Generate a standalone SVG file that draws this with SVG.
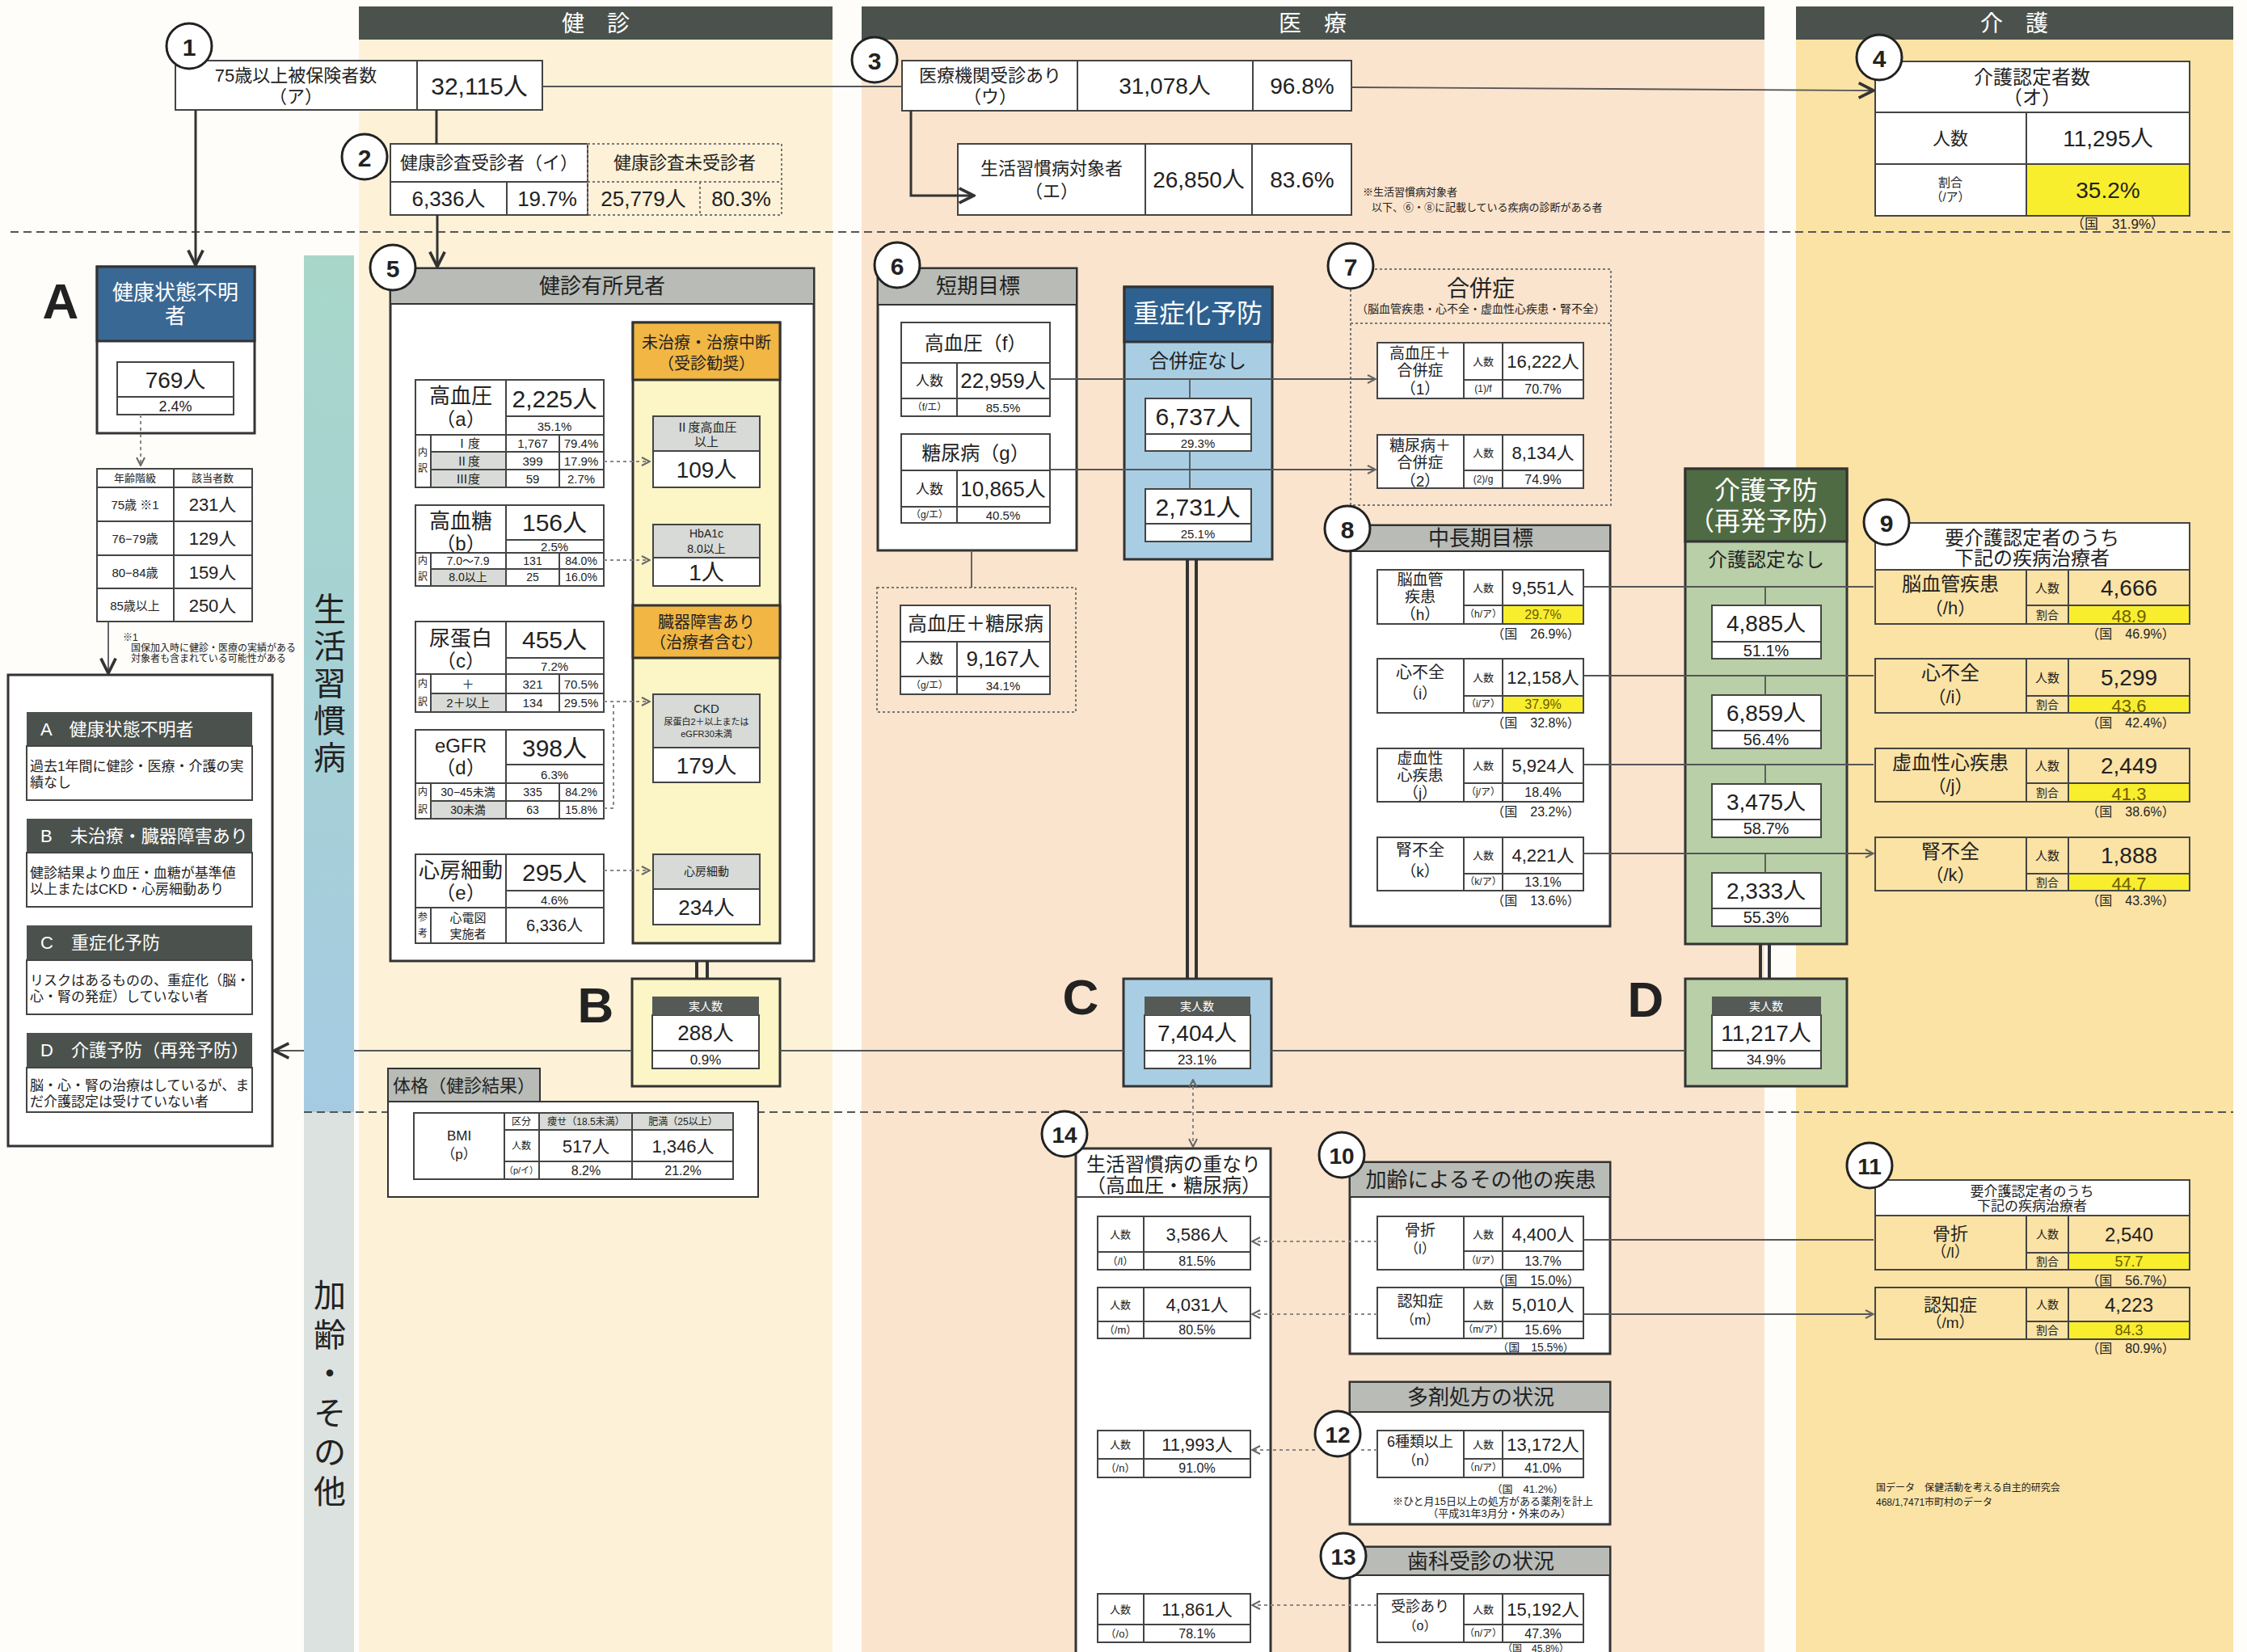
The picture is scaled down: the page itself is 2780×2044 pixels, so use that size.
<svg xmlns="http://www.w3.org/2000/svg" width="2780" height="2044" viewBox="0 0 2780 2044">
<style>
text{font-family:"Liberation Sans","Noto Sans CJK JP",sans-serif;text-anchor:middle;dominant-baseline:central;fill:#222}
.s{text-anchor:start}
.w{fill:#fff}
.b{font-weight:bold}
.box{fill:#fff;stroke:#333;stroke-width:3}
.cell{fill:#fff;stroke:#444;stroke-width:2}
.ln{stroke:#444;stroke-width:2;fill:none}
.dl{stroke:#777;stroke-width:2;stroke-dasharray:3 3;fill:none}
.num{fill:#fff;stroke:#222;stroke-width:3}
.hdr{fill:#4b524d}
.gh{fill:#b8bbb6;stroke:#333;stroke-width:2}
.lg{fill:#d8dbd7}
.yl{fill:#f8ee2e}
.con{stroke:#333;stroke-width:3;fill:none}
.con2{stroke:#555;stroke-width:1.8;fill:none}
.dot{stroke:#888;stroke-width:2;stroke-dasharray:4 4;fill:none}
.dbl{stroke:#333;stroke-width:4}
.ol{fill:#6b5d00}
.lt{font-size:17px}
</style>
<defs>
<linearGradient id="band" x1="0" y1="0" x2="0" y2="1"><stop offset="0" stop-color="#a8d7c9"/><stop offset="1" stop-color="#a5cbe2"/></linearGradient>
<marker id="ar" viewBox="0 0 12 12" refX="11" refY="6" markerWidth="22" markerHeight="22" markerUnits="userSpaceOnUse" orient="auto"><path d="M1,1 L11,6 L1,11" fill="none" stroke="#333" stroke-width="2"/></marker>
<marker id="as" viewBox="0 0 12 12" refX="11" refY="6" markerWidth="12" markerHeight="12" markerUnits="userSpaceOnUse" orient="auto-start-reverse"><path d="M1,1 L11,6 L1,11" fill="none" stroke="#666" stroke-width="2"/></marker>
</defs>

<!-- background -->
<rect width="2780" height="2044" fill="#fefdf9"/>
<rect x="444" y="8" width="586" height="2036" fill="#fdf2d7"/>
<rect x="1066" y="8" width="1117" height="2036" fill="#fae4cd"/>
<rect x="2222" y="8" width="541" height="2036" fill="#fbe3a5"/>
<rect x="444" y="8" width="586" height="41" class="hdr"/>
<text x="737" y="29" font-size="28" class="w">健　診</text>
<rect x="1066" y="8" width="1117" height="41" class="hdr"/>
<text x="1624" y="29" font-size="28" class="w">医　療</text>
<rect x="2222" y="8" width="541" height="41" class="hdr"/>
<text x="2492" y="29" font-size="28" class="w">介　護</text>
<rect x="376" y="316" width="62" height="1060" fill="url(#band)"/>
<rect x="376" y="1376" width="62" height="668" fill="#dce2df"/>
<g font-size="40">
<text x="408" y="754">生</text><text x="408" y="800">活</text><text x="408" y="846">習</text><text x="408" y="892">慣</text><text x="408" y="938">病</text>
<text x="408" y="1603">加</text><text x="408" y="1652">齢</text><text x="408" y="1700">・</text><text x="408" y="1749">そ</text><text x="408" y="1797">の</text><text x="408" y="1846">他</text>
</g>
<line x1="13" y1="287" x2="2763" y2="287" stroke="#555" stroke-width="2" stroke-dasharray="10 6"/>
<line x1="376" y1="1376" x2="2763" y2="1376" stroke="#555" stroke-width="2" stroke-dasharray="10 6"/>
<text x="75" y="372" font-size="62" class="b" fill="#333">A</text>
<text x="737" y="1243" font-size="62" class="b" fill="#333">B</text>
<text x="1337" y="1233" font-size="62" class="b" fill="#333">C</text>
<text x="2036" y="1236" font-size="62" class="b" fill="#333">D</text>

<!-- node 1 -->
<g id="n1">
<rect x="217" y="75" width="454" height="61" class="cell"/>
<line x1="516" y1="75" x2="516" y2="136" class="ln"/>
<text x="366" y="93" font-size="22">75歳以上被保険者数</text>
<text x="366" y="119" font-size="22">（ア）</text>
<text x="593" y="106" font-size="30">32,115人</text>
<circle cx="234" cy="57" r="28" class="num"/><text x="234" y="58" font-size="30" class="b">1</text>
</g>

<!-- node 2 -->
<g id="n2">
<rect x="483" y="178" width="244" height="88" class="cell"/>
<line x1="483" y1="225" x2="727" y2="225" class="ln"/>
<line x1="627" y1="225" x2="627" y2="266" class="ln"/>
<rect x="727" y="178" width="240" height="88" fill="#fff" class="dl"/>
<line x1="727" y1="225" x2="967" y2="225" class="dl"/>
<line x1="866" y1="225" x2="866" y2="266" class="dl"/>
<text x="605" y="201" font-size="22">健康診査受診者（イ）</text>
<text x="555" y="246" font-size="26">6,336人</text>
<text x="677" y="246" font-size="26">19.7%</text>
<text x="847" y="201" font-size="22">健康診査未受診者</text>
<text x="796" y="246" font-size="26">25,779人</text>
<text x="917" y="246" font-size="26">80.3%</text>
<circle cx="451" cy="194" r="28" class="num"/><text x="451" y="195" font-size="30" class="b">2</text>
</g>

<!-- node 3 -->
<g id="n3">
<rect x="1116" y="75" width="556" height="62" class="cell"/>
<line x1="1333" y1="75" x2="1333" y2="137" class="ln"/>
<line x1="1550" y1="75" x2="1550" y2="137" class="ln"/>
<text x="1225" y="93" font-size="22">医療機関受診あり</text>
<text x="1225" y="119" font-size="22">（ウ）</text>
<text x="1441" y="106" font-size="28">31,078人</text>
<text x="1611" y="106" font-size="28">96.8%</text>
<circle cx="1082" cy="74" r="28" class="num"/><text x="1082" y="75" font-size="30" class="b">3</text>
</g>
<g id="n3e">
<rect x="1185" y="178" width="487" height="88" class="cell"/>
<line x1="1417" y1="178" x2="1417" y2="266" class="ln"/>
<line x1="1549" y1="178" x2="1549" y2="266" class="ln"/>
<text x="1301" y="208" font-size="22">生活習慣病対象者</text>
<text x="1301" y="236" font-size="22">（エ）</text>
<text x="1483" y="222" font-size="28">26,850人</text>
<text x="1611" y="222" font-size="28">83.6%</text>
<text x="1686" y="237" font-size="13" class="s">※生活習慣病対象者</text>
<text x="1697" y="256" font-size="13" class="s">以下、⑥・⑧に記載している疾病の診断がある者</text>
</g>

<!-- node 4 -->
<g id="n4">
<rect x="2320" y="76" width="389" height="191" class="cell"/>
<rect x="2507" y="203" width="202" height="64" class="yl"/>
<rect x="2320" y="76" width="389" height="191" fill="none" stroke="#444" stroke-width="2"/>
<line x1="2320" y1="139" x2="2709" y2="139" class="ln"/>
<line x1="2320" y1="203" x2="2709" y2="203" class="ln"/>
<line x1="2507" y1="139" x2="2507" y2="267" class="ln"/>
<text x="2514" y="95" font-size="24">介護認定者数</text>
<text x="2514" y="120" font-size="24">（オ）</text>
<text x="2413" y="171" font-size="22">人数</text>
<text x="2608" y="171" font-size="28">11,295人</text>
<text x="2413" y="225" font-size="15">割合</text>
<text x="2413" y="243" font-size="15">（/ア）</text>
<text x="2608" y="235" font-size="28">35.2%</text>
<text x="2620" y="277" font-size="17">（国　31.9%）</text>
<circle cx="2325" cy="71" r="28" class="num"/><text x="2325" y="72" font-size="30" class="b">4</text>
</g>

<!-- A -->
<g id="nA">
<rect x="120" y="330" width="195" height="206" class="box"/>
<rect x="120" y="330" width="195" height="92" fill="#3a6894" stroke="#333" stroke-width="3"/>
<text x="217" y="362" font-size="26" class="w">健康状態不明</text>
<text x="217" y="391" font-size="26" class="w">者</text>
<rect x="145" y="448" width="144" height="65" class="cell"/>
<line x1="145" y1="491" x2="289" y2="491" class="ln"/>
<text x="217" y="470" font-size="28">769人</text>
<text x="217" y="503" font-size="18">2.4%</text>
</g>
<g id="ageTable">
<rect x="120" y="580" width="192" height="189" class="cell"/>
<line x1="215" y1="580" x2="215" y2="769" class="ln"/>
<line x1="120" y1="603" x2="312" y2="603" class="ln"/>
<line x1="120" y1="645" x2="312" y2="645" class="ln"/>
<line x1="120" y1="687" x2="312" y2="687" class="ln"/>
<line x1="120" y1="728" x2="312" y2="728" class="ln"/>
<text x="167" y="591" font-size="13">年齢階級</text><text x="263" y="591" font-size="13">該当者数</text>
<text x="167" y="624" font-size="15">75歳 ※1</text><text x="263" y="624" font-size="22">231人</text>
<text x="167" y="666" font-size="15">76−79歳</text><text x="263" y="666" font-size="22">129人</text>
<text x="167" y="708" font-size="15">80−84歳</text><text x="263" y="708" font-size="22">159人</text>
<text x="167" y="749" font-size="15">85歳以上</text><text x="263" y="749" font-size="22">250人</text>
<text x="152" y="789" font-size="12" class="s">※1</text>
<text x="162" y="802" font-size="12" class="s">国保加入時に健診・医療の実績がある</text>
<text x="162" y="815" font-size="12" class="s">対象者も含まれている可能性がある</text>
</g>

<!-- legend -->
<g id="legend">
<rect x="10" y="835" width="327" height="583" class="box"/>
<rect x="33" y="881" width="279" height="42" class="hdr"/>
<rect x="33" y="923" width="279" height="67" class="cell"/>
<text x="50" y="902" font-size="22" class="w s">A　健康状態不明者</text>
<text x="37" y="948" class="s lt">過去1年間に健診・医療・介護の実</text>
<text x="37" y="968" class="s lt">績なし</text>
<rect x="33" y="1013" width="279" height="42" class="hdr"/>
<rect x="33" y="1055" width="279" height="67" class="cell"/>
<text x="50" y="1034" font-size="22" class="w s">B　未治療・臓器障害あり</text>
<text x="37" y="1080" class="s lt">健診結果より血圧・血糖が基準値</text>
<text x="37" y="1100" class="s lt">以上またはCKD・心房細動あり</text>
<rect x="33" y="1145" width="279" height="43" class="hdr"/>
<rect x="33" y="1188" width="279" height="67" class="cell"/>
<text x="50" y="1166" font-size="22" class="w s">C　重症化予防</text>
<text x="37" y="1213" class="s lt">リスクはあるものの、重症化（脳・</text>
<text x="37" y="1233" class="s lt">心・腎の発症）していない者</text>
<rect x="33" y="1278" width="279" height="43" class="hdr"/>
<rect x="33" y="1321" width="279" height="55" class="cell"/>
<text x="50" y="1299" font-size="22" class="w s">D　介護予防（再発予防）</text>
<text x="37" y="1343" class="s lt">脳・心・腎の治療はしているが、ま</text>
<text x="37" y="1363" class="s lt">だ介護認定は受けていない者</text>
</g>

<!-- node 5 -->
<g id="n5">
<rect x="483" y="332" width="524" height="857" class="box"/>
<rect x="483" y="332" width="524" height="44" class="gh"/>
<text x="745" y="354" font-size="26">健診有所見者</text>
<!-- a -->
<rect x="533" y="559" width="93" height="44" class="lg"/>
<rect x="514" y="470" width="233" height="133" fill="none" stroke="#444" stroke-width="2"/>
<path d="M626,470V603M626,515H747M514,538H747M533,559H747M533,581H747M533,538V603M692,538V603" class="ln"/>
<text x="570" y="490" font-size="26">高血圧</text><text x="570" y="518" font-size="24">（a）</text>
<text x="686" y="493" font-size="30">2,225人</text><text x="686" y="527" font-size="15">35.1%</text>
<text x="523" y="560" font-size="12">内</text><text x="523" y="580" font-size="12">訳</text>
<g font-size="15"><text x="579" y="548">Ⅰ度</text><text x="659" y="548">1,767</text><text x="719" y="548">79.4%</text>
<text x="579" y="570">Ⅱ度</text><text x="659" y="570">399</text><text x="719" y="570">17.9%</text>
<text x="579" y="592">Ⅲ度</text><text x="659" y="592">59</text><text x="719" y="592">2.7%</text></g>
<!-- b -->
<rect x="533" y="704" width="93" height="21" class="lg"/>
<rect x="514" y="625" width="233" height="100" fill="none" stroke="#444" stroke-width="2"/>
<path d="M626,625V725M626,668H747M514,684H747M533,704H747M533,684V725M692,684V725" class="ln"/>
<text x="570" y="645" font-size="26">高血糖</text><text x="570" y="672" font-size="24">（b）</text>
<text x="686" y="646" font-size="30">156人</text><text x="686" y="676" font-size="15">2.5%</text>
<text x="523" y="694" font-size="12">内</text><text x="523" y="714" font-size="12">訳</text>
<g font-size="14"><text x="579" y="694">7.0～7.9</text><text x="659" y="694">131</text><text x="719" y="694">84.0%</text>
<text x="579" y="714">8.0以上</text><text x="659" y="714">25</text><text x="719" y="714">16.0%</text></g>
<!-- c -->
<rect x="533" y="858" width="93" height="23" class="lg"/>
<rect x="514" y="769" width="233" height="112" fill="none" stroke="#444" stroke-width="2"/>
<path d="M626,769V881M626,814H747M514,834H747M533,858H747M533,834V881M692,834V881" class="ln"/>
<text x="570" y="790" font-size="26">尿蛋白</text><text x="570" y="817" font-size="24">（c）</text>
<text x="686" y="791" font-size="30">455人</text><text x="686" y="824" font-size="15">7.2%</text>
<text x="523" y="846" font-size="12">内</text><text x="523" y="869" font-size="12">訳</text>
<g font-size="15"><text x="579" y="846">＋</text><text x="659" y="846">321</text><text x="719" y="846">70.5%</text>
<text x="579" y="869">2＋以上</text><text x="659" y="869">134</text><text x="719" y="869">29.5%</text></g>
<!-- d -->
<rect x="533" y="991" width="93" height="22" class="lg"/>
<rect x="514" y="903" width="233" height="110" fill="none" stroke="#444" stroke-width="2"/>
<path d="M626,903V1013M626,946H747M514,969H747M533,991H747M533,969V1013M692,969V1013" class="ln"/>
<text x="570" y="922" font-size="24">eGFR</text><text x="570" y="949" font-size="24">（d）</text>
<text x="686" y="925" font-size="30">398人</text><text x="686" y="958" font-size="15">6.3%</text>
<text x="523" y="980" font-size="12">内</text><text x="523" y="1002" font-size="12">訳</text>
<g font-size="14"><text x="579" y="980">30−45未満</text><text x="659" y="980">335</text><text x="719" y="980">84.2%</text>
<text x="579" y="1002">30未満</text><text x="659" y="1002">63</text><text x="719" y="1002">15.8%</text></g>
<!-- e -->
<rect x="514" y="1057" width="233" height="110" fill="none" stroke="#444" stroke-width="2"/>
<path d="M626,1057V1167M626,1102H747M514,1123H747M533,1123V1167" class="ln"/>
<text x="570" y="1077" font-size="26">心房細動</text><text x="570" y="1104" font-size="24">（e）</text>
<text x="686" y="1079" font-size="30">295人</text><text x="686" y="1113" font-size="15">4.6%</text>
<text x="523" y="1135" font-size="12">参</text><text x="523" y="1155" font-size="12">考</text>
<text x="579" y="1135" font-size="15">心電図</text><text x="579" y="1155" font-size="15">実施者</text>
<text x="686" y="1145" font-size="20">6,336人</text>
<!-- right column -->
<rect x="783" y="399" width="182" height="768" fill="#fcf5c5" stroke="#333" stroke-width="3"/>
<rect x="783" y="399" width="182" height="71" fill="#f1b643" stroke="#333" stroke-width="3"/>
<text x="874" y="424" font-size="20" fill="#9a5c12">未治療・治療中断</text>
<text x="874" y="450" font-size="20" fill="#9a5c12">（受診勧奨）</text>
<rect x="783" y="749" width="182" height="65" fill="#f1b643" stroke="#333" stroke-width="3"/>
<text x="874" y="770" font-size="20" fill="#9a5c12">臓器障害あり</text>
<text x="874" y="795" font-size="20" fill="#9a5c12">（治療者含む）</text>
<rect x="808" y="515" width="132" height="88" class="cell"/>
<rect x="808" y="515" width="132" height="43" fill="#d7dad6" stroke="#444" stroke-width="2"/>
<text x="874" y="528" font-size="15">Ⅱ度高血圧</text><text x="874" y="546" font-size="15">以上</text>
<text x="874" y="581" font-size="28">109人</text>
<rect x="808" y="649" width="132" height="76" class="cell"/>
<rect x="808" y="649" width="132" height="41" fill="#d7dad6" stroke="#444" stroke-width="2"/>
<text x="874" y="660" font-size="14">HbA1c</text><text x="874" y="679" font-size="14">8.0以上</text>
<text x="874" y="708" font-size="28">1人</text>
<rect x="808" y="859" width="132" height="109" class="cell"/>
<rect x="808" y="859" width="132" height="66" fill="#d7dad6" stroke="#444" stroke-width="2"/>
<text x="874" y="876" font-size="15">CKD</text>
<text x="874" y="893" font-size="11">尿蛋白2＋以上または</text>
<text x="874" y="908" font-size="11">eGFR30未満</text>
<text x="874" y="947" font-size="28">179人</text>
<rect x="808" y="1057" width="132" height="87" class="cell"/>
<rect x="808" y="1057" width="132" height="43" fill="#d7dad6" stroke="#444" stroke-width="2"/>
<text x="874" y="1078" font-size="14">心房細動</text>
<text x="874" y="1123" font-size="26">234人</text>
<circle cx="486" cy="331" r="28" class="num"/><text x="486" y="332" font-size="30" class="b">5</text>
</g>

<!-- B -->
<g id="nB">
<rect x="782" y="1211" width="183" height="133" fill="#fcf5c5" stroke="#333" stroke-width="3"/>
<rect x="807" y="1256" width="132" height="66" class="cell"/>
<rect x="807" y="1233" width="132" height="23" fill="#555a56"/>
<line x1="807" y1="1300" x2="939" y2="1300" class="ln"/>
<text x="873" y="1245" font-size="14" class="w">実人数</text>
<text x="873" y="1278" font-size="26">288人</text>
<text x="873" y="1311" font-size="17">0.9%</text>
</g>

<!-- 体格 -->
<g id="nBody">
<rect x="480" y="1363" width="458" height="118" fill="#fff" stroke="#333" stroke-width="2"/>
<rect x="480" y="1322" width="188" height="41" class="gh"/>
<text x="574" y="1343" font-size="22">体格（健診結果）</text>
<rect x="667" y="1377" width="240" height="21" fill="#d8dbd7"/>
<rect x="512" y="1377" width="395" height="82" fill="none" stroke="#444" stroke-width="2"/>
<path d="M624,1377V1459M667,1377V1459M782,1377V1459M624,1398H907M624,1437H907" class="ln"/>
<text x="568" y="1405" font-size="17">BMI</text><text x="568" y="1428" font-size="17">（p）</text>
<text x="645" y="1388" font-size="12">区分</text>
<text x="725" y="1388" font-size="12">痩せ（18.5未満）</text>
<text x="845" y="1388" font-size="12">肥満（25以上）</text>
<text x="645" y="1418" font-size="12">人数</text>
<text x="725" y="1418" font-size="22">517人</text>
<text x="845" y="1418" font-size="22">1,346人</text>
<text x="645" y="1448" font-size="11">（p/イ）</text>
<text x="725" y="1448" font-size="16">8.2%</text>
<text x="845" y="1448" font-size="16">21.2%</text>
</g>

<!-- node 6 -->
<g id="n6">
<rect x="1086" y="332" width="246" height="349" class="box"/>
<rect x="1086" y="332" width="246" height="45" class="gh"/>
<text x="1210" y="354" font-size="26">短期目標</text>
<rect x="1115" y="399" width="184" height="116" class="cell"/>
<path d="M1115,449H1299M1115,493H1299M1184,449V515" class="ln"/>
<text x="1207" y="424" font-size="24">高血圧（f）</text>
<text x="1150" y="471" font-size="17">人数</text><text x="1241" y="471" font-size="26">22,959人</text>
<text x="1150" y="504" font-size="12">（f/エ）</text><text x="1241" y="504" font-size="15">85.5%</text>
<rect x="1115" y="537" width="184" height="110" class="cell"/>
<path d="M1115,582H1299M1115,627H1299M1184,582V647" class="ln"/>
<text x="1207" y="560" font-size="24">糖尿病（g）</text>
<text x="1150" y="605" font-size="17">人数</text><text x="1241" y="605" font-size="26">10,865人</text>
<text x="1150" y="637" font-size="12">（g/エ）</text><text x="1241" y="637" font-size="15">40.5%</text>
<circle cx="1110" cy="328" r="28" class="num"/><text x="1110" y="329" font-size="30" class="b">6</text>
</g>
<g id="n6b">
<rect x="1085" y="727" width="246" height="154" fill="#fff" class="dl"/>
<rect x="1114" y="749" width="185" height="110" class="cell"/>
<path d="M1114,794H1299M1114,837H1299M1184,794V859" class="ln"/>
<text x="1207" y="771" font-size="24">高血圧＋糖尿病</text>
<text x="1150" y="815" font-size="17">人数</text><text x="1241" y="815" font-size="26">9,167人</text>
<text x="1150" y="848" font-size="12">（g/エ）</text><text x="1241" y="848" font-size="15">34.1%</text>
</g>

<!-- 重症化予防 -->
<g id="nSev">
<rect x="1391" y="355" width="183" height="337" fill="#a9cee3" stroke="#333" stroke-width="3"/>
<rect x="1391" y="355" width="183" height="68" fill="#2e6190" stroke="#333" stroke-width="3"/>
<text x="1482" y="388" font-size="32" class="w">重症化予防</text>
<text x="1482" y="446" font-size="24">合併症なし</text>
<rect x="1417" y="493" width="131" height="65" class="cell"/>
<line x1="1417" y1="537" x2="1548" y2="537" class="ln"/>
<text x="1482" y="515" font-size="30">6,737人</text><text x="1482" y="548" font-size="15">29.3%</text>
<rect x="1417" y="605" width="131" height="65" class="cell"/>
<line x1="1417" y1="648" x2="1548" y2="648" class="ln"/>
<text x="1482" y="627" font-size="30">2,731人</text><text x="1482" y="660" font-size="15">25.1%</text>
</g>
<g id="nC">
<rect x="1390" y="1211" width="183" height="133" fill="#a9cee3" stroke="#333" stroke-width="3"/>
<rect x="1416" y="1256" width="131" height="66" class="cell"/>
<rect x="1416" y="1233" width="131" height="23" fill="#555a56"/>
<line x1="1416" y1="1300" x2="1547" y2="1300" class="ln"/>
<text x="1481" y="1245" font-size="14" class="w">実人数</text>
<text x="1481" y="1278" font-size="28">7,404人</text>
<text x="1481" y="1311" font-size="17">23.1%</text>
</g>

<!-- node 7 -->
<g id="n7">
<rect x="1671" y="333" width="322" height="292" fill="#fff" class="dl"/>
<line x1="1671" y1="400" x2="1993" y2="400" class="dl"/>
<text x="1832" y="357" font-size="28">合併症</text>
<text x="1832" y="382" font-size="14">（脳血管疾患・心不全・虚血性心疾患・腎不全）</text>
<rect x="1704" y="424" width="255" height="69" class="cell"/>
<path d="M1811,424V493M1859,424V493M1811,470H1959" class="ln"/>
<text x="1757" y="437" font-size="19">高血圧＋</text><text x="1757" y="458" font-size="19">合併症</text><text x="1757" y="481" font-size="19">（1）</text>
<text x="1835" y="447" font-size="13">人数</text><text x="1909" y="447" font-size="22">16,222人</text>
<text x="1835" y="481" font-size="12">(1)/f</text><text x="1909" y="481" font-size="16">70.7%</text>
<rect x="1704" y="538" width="255" height="66" class="cell"/>
<path d="M1811,538V604M1859,538V604M1811,582H1959" class="ln"/>
<text x="1757" y="551" font-size="19">糖尿病＋</text><text x="1757" y="572" font-size="19">合併症</text><text x="1757" y="595" font-size="19">（2）</text>
<text x="1835" y="560" font-size="13">人数</text><text x="1909" y="560" font-size="22">8,134人</text>
<text x="1835" y="593" font-size="12">(2)/g</text><text x="1909" y="593" font-size="16">74.9%</text>
<circle cx="1671" cy="329" r="28" class="num"/><text x="1671" y="330" font-size="30" class="b">7</text>
</g>

<!-- node 8 -->
<g id="n8">
<rect x="1671" y="650" width="321" height="496" class="box"/>
<rect x="1671" y="650" width="321" height="32" class="gh"/>
<text x="1832" y="666" font-size="26">中長期目標</text>
<rect x="1859" y="749" width="100" height="23" class="yl"/>
<rect x="1859" y="861" width="100" height="21" class="yl"/>
<rect x="1704" y="705" width="255" height="67" fill="none" stroke="#444" stroke-width="2"/>
<path d="M1811,705V772M1859,705V772M1811,749H1959" class="ln"/>
<text x="1757" y="717" font-size="19">脳血管</text><text x="1757" y="738" font-size="19">疾患</text><text x="1757" y="760" font-size="19">（h）</text>
<text x="1835" y="727" font-size="13">人数</text><text x="1909" y="727" font-size="22">9,551人</text>
<text x="1835" y="760" font-size="12">（h/ア）</text><text x="1909" y="760" font-size="16" class="ol">29.7%</text>
<text x="1900" y="784" font-size="16">（国　26.9%）</text>
<rect x="1704" y="815" width="255" height="67" fill="none" stroke="#444" stroke-width="2"/>
<path d="M1811,815V882M1859,815V882M1811,861H1959" class="ln"/>
<text x="1757" y="832" font-size="20">心不全</text><text x="1757" y="858" font-size="19">（i）</text>
<text x="1835" y="838" font-size="13">人数</text><text x="1909" y="838" font-size="22">12,158人</text>
<text x="1835" y="871" font-size="12">（i/ア）</text><text x="1909" y="871" font-size="16" class="ol">37.9%</text>
<text x="1900" y="894" font-size="16">（国　32.8%）</text>
<rect x="1704" y="926" width="255" height="66" fill="none" stroke="#444" stroke-width="2"/>
<path d="M1811,926V992M1859,926V992M1811,969H1959" class="ln"/>
<text x="1757" y="938" font-size="19">虚血性</text><text x="1757" y="959" font-size="19">心疾患</text><text x="1757" y="981" font-size="19">（j）</text>
<text x="1835" y="947" font-size="13">人数</text><text x="1909" y="947" font-size="22">5,924人</text>
<text x="1835" y="980" font-size="12">（j/ア）</text><text x="1909" y="980" font-size="16">18.4%</text>
<text x="1900" y="1004" font-size="16">（国　23.2%）</text>
<rect x="1704" y="1036" width="255" height="66" fill="none" stroke="#444" stroke-width="2"/>
<path d="M1811,1036V1102M1859,1036V1102M1811,1081H1959" class="ln"/>
<text x="1757" y="1052" font-size="20">腎不全</text><text x="1757" y="1078" font-size="19">（k）</text>
<text x="1835" y="1058" font-size="13">人数</text><text x="1909" y="1058" font-size="22">4,221人</text>
<text x="1835" y="1091" font-size="12">（k/ア）</text><text x="1909" y="1091" font-size="16">13.1%</text>
<text x="1900" y="1114" font-size="16">（国　13.6%）</text>
<circle cx="1667" cy="654" r="28" class="num"/><text x="1667" y="655" font-size="30" class="b">8</text>
</g>

<!-- 介護予防 -->
<g id="nCare">
<rect x="2085" y="580" width="200" height="588" fill="#b8cfa8" stroke="#333" stroke-width="3"/>
<rect x="2085" y="580" width="200" height="90" fill="#4f6b43" stroke="#333" stroke-width="3"/>
<text x="2185" y="607" font-size="32" class="w">介護予防</text>
<text x="2185" y="645" font-size="32" class="w">（再発予防）</text>
<text x="2185" y="692" font-size="24" fill="#555">介護認定なし</text>
<rect x="2118" y="749" width="135" height="66" class="cell"/><line x1="2118" y1="794" x2="2253" y2="794" class="ln"/>
<text x="2185" y="771" font-size="28">4,885人</text><text x="2185" y="805" font-size="20">51.1%</text>
<rect x="2118" y="860" width="135" height="66" class="cell"/><line x1="2118" y1="904" x2="2253" y2="904" class="ln"/>
<text x="2185" y="882" font-size="28">6,859人</text><text x="2185" y="915" font-size="20">56.4%</text>
<rect x="2118" y="970" width="135" height="66" class="cell"/><line x1="2118" y1="1014" x2="2253" y2="1014" class="ln"/>
<text x="2185" y="992" font-size="28">3,475人</text><text x="2185" y="1025" font-size="20">58.7%</text>
<rect x="2118" y="1080" width="135" height="66" class="cell"/><line x1="2118" y1="1124" x2="2253" y2="1124" class="ln"/>
<text x="2185" y="1102" font-size="28">2,333人</text><text x="2185" y="1135" font-size="20">55.3%</text>
</g>
<g id="nD">
<rect x="2085" y="1211" width="200" height="133" fill="#b8cfa8" stroke="#333" stroke-width="3"/>
<rect x="2118" y="1256" width="135" height="66" class="cell"/>
<rect x="2118" y="1233" width="135" height="23" fill="#555a56"/>
<line x1="2118" y1="1300" x2="2253" y2="1300" class="ln"/>
<text x="2185" y="1245" font-size="14" class="w">実人数</text>
<text x="2185" y="1278" font-size="28">11,217人</text>
<text x="2185" y="1311" font-size="17">34.9%</text>
</g>

<!-- node 9 -->
<g id="n9">
<rect x="2320" y="647" width="389" height="58" class="cell"/>
<text x="2514" y="665" font-size="24">要介護認定者のうち</text>
<text x="2514" y="690" font-size="24">下記の疾病治療者</text>
<rect x="2559" y="749" width="150" height="23" class="yl"/>
<rect x="2559" y="861" width="150" height="21" class="yl"/>
<rect x="2559" y="969" width="150" height="23" class="yl"/>
<rect x="2559" y="1081" width="150" height="21" class="yl"/>
<g fill="none" stroke="#444" stroke-width="2">
<rect x="2320" y="705" width="389" height="67"/><rect x="2320" y="815" width="389" height="67"/><rect x="2320" y="926" width="389" height="66"/><rect x="2320" y="1036" width="389" height="66"/>
</g>
<path d="M2507,705V772M2559,705V772M2507,749H2709M2507,815V882M2559,815V882M2507,861H2709M2507,926V992M2559,926V992M2507,969H2709M2507,1036V1102M2559,1036V1102M2507,1081H2709" class="ln"/>
<text x="2413" y="722" font-size="24">脳血管疾患</text><text x="2413" y="752" font-size="22">（/h）</text>
<text x="2533" y="727" font-size="15">人数</text><text x="2634" y="727" font-size="28">4,666</text>
<text x="2533" y="761" font-size="14">割合</text><text x="2634" y="762" font-size="22" class="ol">48.9</text>
<text x="2636" y="784" font-size="16">（国　46.9%）</text>
<text x="2413" y="832" font-size="24">心不全</text><text x="2413" y="862" font-size="22">（/i）</text>
<text x="2533" y="838" font-size="15">人数</text><text x="2634" y="838" font-size="28">5,299</text>
<text x="2533" y="872" font-size="14">割合</text><text x="2634" y="873" font-size="22" class="ol">43.6</text>
<text x="2636" y="894" font-size="16">（国　42.4%）</text>
<text x="2413" y="943" font-size="24">虚血性心疾患</text><text x="2413" y="972" font-size="22">（/j）</text>
<text x="2533" y="947" font-size="15">人数</text><text x="2634" y="947" font-size="28">2,449</text>
<text x="2533" y="981" font-size="14">割合</text><text x="2634" y="982" font-size="22" class="ol">41.3</text>
<text x="2636" y="1004" font-size="16">（国　38.6%）</text>
<text x="2413" y="1053" font-size="24">腎不全</text><text x="2413" y="1082" font-size="22">（/k）</text>
<text x="2533" y="1058" font-size="15">人数</text><text x="2634" y="1058" font-size="28">1,888</text>
<text x="2533" y="1092" font-size="14">割合</text><text x="2634" y="1093" font-size="22" class="ol">44.7</text>
<text x="2636" y="1114" font-size="16">（国　43.3%）</text>
<circle cx="2334" cy="646" r="28" class="num"/><text x="2334" y="647" font-size="30" class="b">9</text>
</g>

<!-- node 14 -->
<g id="n14">
<rect x="1331" y="1421" width="241" height="640" class="box"/>
<line x1="1331" y1="1481" x2="1572" y2="1481" class="ln"/>
<text x="1452" y="1440" font-size="24">生活習慣病の重なり</text>
<text x="1452" y="1466" font-size="24">（高血圧・糖尿病）</text>
<g font-size="13">
<rect x="1358" y="1505" width="189" height="66" class="cell"/><path d="M1415,1505V1571M1358,1549H1547" class="ln"/>
<text x="1386" y="1527">人数</text><text x="1386" y="1560">（/l）</text>
<rect x="1358" y="1593" width="189" height="63" class="cell"/><path d="M1415,1593V1656M1358,1635H1547" class="ln"/>
<text x="1386" y="1614">人数</text><text x="1386" y="1645">（/m）</text>
<rect x="1358" y="1770" width="189" height="58" class="cell"/><path d="M1415,1770V1828M1358,1805H1547" class="ln"/>
<text x="1386" y="1787">人数</text><text x="1386" y="1816">（/n）</text>
<rect x="1358" y="1972" width="189" height="60" class="cell"/><path d="M1415,1972V2032M1358,2010H1547" class="ln"/>
<text x="1386" y="1991">人数</text><text x="1386" y="2021">（/o）</text>
</g>
<text x="1481" y="1527" font-size="22">3,586人</text><text x="1481" y="1560" font-size="16">81.5%</text>
<text x="1481" y="1614" font-size="22">4,031人</text><text x="1481" y="1645" font-size="16">80.5%</text>
<text x="1481" y="1787" font-size="22">11,993人</text><text x="1481" y="1816" font-size="16">91.0%</text>
<text x="1481" y="1991" font-size="22">11,861人</text><text x="1481" y="2021" font-size="16">78.1%</text>
<circle cx="1317" cy="1403" r="28" class="num"/><text x="1317" y="1404" font-size="28" class="b">14</text>
</g>

<!-- node 10 -->
<g id="n10">
<rect x="1670" y="1438" width="322" height="237" class="box"/>
<rect x="1670" y="1438" width="322" height="43" class="gh"/>
<text x="1832" y="1460" font-size="26">加齢によるその他の疾患</text>
<rect x="1704" y="1505" width="255" height="66" class="cell"/>
<path d="M1811,1505V1571M1859,1505V1571M1811,1548H1959" class="ln"/>
<text x="1757" y="1522" font-size="19">骨折</text><text x="1757" y="1545" font-size="17">（l）</text>
<text x="1835" y="1527" font-size="13">人数</text><text x="1909" y="1527" font-size="22">4,400人</text>
<text x="1835" y="1560" font-size="12">（l/ア）</text><text x="1909" y="1560" font-size="16">13.7%</text>
<text x="1900" y="1584" font-size="16">（国　15.0%）</text>
<rect x="1704" y="1593" width="255" height="63" class="cell"/>
<path d="M1811,1593V1656M1859,1593V1656M1811,1635H1959" class="ln"/>
<text x="1757" y="1610" font-size="19">認知症</text><text x="1757" y="1633" font-size="17">（m）</text>
<text x="1835" y="1614" font-size="13">人数</text><text x="1909" y="1614" font-size="22">5,010人</text>
<text x="1835" y="1645" font-size="12">（m/ア）</text><text x="1909" y="1645" font-size="16">15.6%</text>
<text x="1900" y="1667" font-size="14">（国　15.5%）</text>
<circle cx="1660" cy="1429" r="28" class="num"/><text x="1660" y="1430" font-size="28" class="b">10</text>
</g>

<!-- node 12 -->
<g id="n12">
<rect x="1670" y="1710" width="322" height="176" class="box"/>
<rect x="1670" y="1710" width="322" height="37" class="gh"/>
<text x="1832" y="1729" font-size="26">多剤処方の状況</text>
<rect x="1704" y="1770" width="255" height="58" class="cell"/>
<path d="M1811,1770V1828M1859,1770V1828M1811,1805H1959" class="ln"/>
<text x="1757" y="1784" font-size="18">6種類以上</text><text x="1757" y="1807" font-size="17">（n）</text>
<text x="1835" y="1787" font-size="13">人数</text><text x="1909" y="1787" font-size="22">13,172人</text>
<text x="1835" y="1816" font-size="12">（n/ア）</text><text x="1909" y="1816" font-size="16">41.0%</text>
<text x="1890" y="1842" font-size="13">（国　41.2%）</text>
<text x="1847" y="1857" font-size="13">※ひと月15日以上の処方がある薬剤を計上</text>
<text x="1855" y="1872" font-size="13">（平成31年3月分・外来のみ）</text>
<circle cx="1655" cy="1774" r="28" class="num"/><text x="1655" y="1775" font-size="28" class="b">12</text>
</g>

<!-- node 13 -->
<g id="n13">
<rect x="1670" y="1914" width="322" height="150" class="box"/>
<rect x="1670" y="1914" width="322" height="35" class="gh"/>
<text x="1832" y="1932" font-size="26">歯科受診の状況</text>
<rect x="1704" y="1972" width="255" height="60" class="cell"/>
<path d="M1811,1972V2032M1859,1972V2032M1811,2010H1959" class="ln"/>
<text x="1757" y="1988" font-size="18">受診あり</text><text x="1757" y="2011" font-size="16">（o）</text>
<text x="1835" y="1991" font-size="13">人数</text><text x="1909" y="1991" font-size="22">15,192人</text>
<text x="1835" y="2021" font-size="12">（n/ア）</text><text x="1909" y="2021" font-size="16">47.3%</text>
<text x="1900" y="2040" font-size="12">（国　45.8%）</text>
<circle cx="1662" cy="1925" r="28" class="num"/><text x="1662" y="1926" font-size="28" class="b">13</text>
</g>

<!-- node 11 -->
<g id="n11">
<rect x="2320" y="1460" width="389" height="44" class="cell"/>
<text x="2514" y="1474" font-size="17">要介護認定者のうち</text>
<text x="2514" y="1492" font-size="17">下記の疾病治療者</text>
<rect x="2559" y="1550" width="150" height="21" class="yl"/>
<rect x="2559" y="1635" width="150" height="22" class="yl"/>
<rect x="2320" y="1504" width="389" height="67" fill="none" stroke="#444" stroke-width="2"/>
<rect x="2320" y="1593" width="389" height="64" fill="none" stroke="#444" stroke-width="2"/>
<path d="M2507,1504V1571M2559,1504V1571M2507,1550H2709M2507,1593V1657M2559,1593V1657M2507,1635H2709" class="ln"/>
<text x="2413" y="1526" font-size="22">骨折</text><text x="2413" y="1549" font-size="19">（/l）</text>
<text x="2533" y="1527" font-size="14">人数</text><text x="2634" y="1527" font-size="24">2,540</text>
<text x="2533" y="1561" font-size="14">割合</text><text x="2634" y="1561" font-size="18" class="ol">57.7</text>
<text x="2636" y="1584" font-size="16">（国　56.7%）</text>
<text x="2413" y="1614" font-size="22">認知症</text><text x="2413" y="1636" font-size="19">（/m）</text>
<text x="2533" y="1614" font-size="14">人数</text><text x="2634" y="1614" font-size="24">4,223</text>
<text x="2533" y="1646" font-size="14">割合</text><text x="2634" y="1646" font-size="18" class="ol">84.3</text>
<text x="2636" y="1668" font-size="16">（国　80.9%）</text>
<circle cx="2313" cy="1442" r="28" class="num"/><text x="2313" y="1443" font-size="28" class="b">11</text>
</g>
<text x="2321" y="1841" font-size="12" class="s">国データ　保健活動を考える自主的研究会</text>
<text x="2321" y="1859" font-size="12" class="s">468/1,7471市町村のデータ</text>

<!-- connectors -->
<g id="connectors">
<path d="M242,136V328" class="con" marker-end="url(#ar)"/>
<path d="M540,136V178" class="con"/>
<path d="M541,266V330" class="con" marker-end="url(#ar)"/>
<path d="M671,107H1116" class="con2"/>
<path d="M1127,137V242H1205" class="con" marker-end="url(#ar)"/>
<path d="M1672,108L2318,112" class="con2" stroke-width="2.5" marker-end="url(#ar)"/>
<path d="M174,513V576" class="dot" marker-end="url(#as)"/>
<path d="M134,769V833" class="con2" stroke-width="2.5" marker-end="url(#ar)"/>
<path d="M376,1300H339" class="con2" stroke-width="2.5" marker-end="url(#ar)"/>
<path d="M438,1300H782M965,1300H1390M1573,1300H2085" class="con2" stroke-width="2.5"/>
<path d="M747,571H804" class="dot" marker-end="url(#as)"/>
<path d="M747,693H804" class="dot" marker-end="url(#as)"/>
<path d="M747,868H804" class="dot" marker-end="url(#as)"/>
<path d="M747,1000H759V868" class="dot"/>
<path d="M747,1077H804" class="dot" marker-end="url(#as)"/>
<path d="M862,1189V1211M875,1189V1211" class="dbl"/>
<path d="M1202,681V727" class="con2"/>
<path d="M1299,469H1702" class="con2" marker-end="url(#as)"/>
<path d="M1299,581H1702" class="con2" marker-end="url(#as)"/>
<path d="M1472,469V493M1472,558V605" class="con2"/>
<path d="M1469,692V1211M1480,692V1211" class="dbl"/>
<path d="M1476,1336V1419" class="dot" marker-start="url(#as)" marker-end="url(#as)"/>
<path d="M1959,726H2318M1959,836H2318M1959,946H2318M1959,1056H2318" class="con2" marker-end="url(#as)"/>
<path d="M2184,726V749M2184,836V860M2184,946V970M2184,1056V1080" class="con2"/>
<path d="M2178,1168V1211M2189,1168V1211" class="dbl"/>
<path d="M1959,1534H2318M1959,1626H2318" class="con2" marker-end="url(#as)"/>
<path d="M1704,1536H1549" class="dot" marker-end="url(#as)"/>
<path d="M1704,1626H1549" class="dot" marker-end="url(#as)"/>
<path d="M1704,1794H1683M1627,1794H1549" class="dot" marker-end="url(#as)"/>
<path d="M1704,1986H1549" class="dot" marker-end="url(#as)"/>
</g>
</svg>
